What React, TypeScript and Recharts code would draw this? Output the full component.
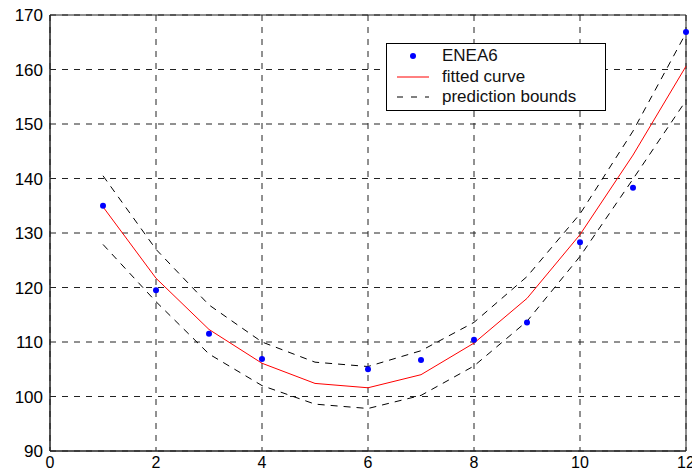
import { CartesianGrid, Legend, Line, LineChart, ReferenceArea, XAxis, YAxis } from 'recharts'

// x positions of the samples (months 1..12)
const xValues = [1, 2, 3, 4, 5, 6, 7, 8, 9, 10, 11, 12]
// measured points, no sample at x = 5
const eneaValues = [135, 119.5, 111.5, 106.9, null, 105, 106.7, 110.4, 113.6, 128.3, 138.3, 166.9]
const fittedValues = [134.8, 121.7, 112.3, 106.1, 102.4, 101.6, 104.0, 109.8, 118.0, 129.7, 144.3, 160.6]
const upperBound = [140.5, 127.0, 116.8, 110.0, 106.3, 105.5, 108.4, 113.6, 122.0, 133.5, 148.7, 166.7]
const lowerBound = [127.9, 117.4, 107.8, 102.0, 98.6, 97.8, 100.2, 105.6, 113.8, 125.7, 139.9, 154.3]

const xTicks = [0, 2, 4, 6, 8, 10, 12]
const yTicks = [90, 100, 110, 120, 130, 140, 150, 160, 170]

const seriesNames = ['ENEA6', 'fitted curve', 'prediction bounds']

const data = xValues.map((x, i) => ({
  x,
  enea: eneaValues[i],
  fitted: fittedValues[i],
  upper: upperBound[i],
  lower: lowerBound[i],
}))

const font = '"Liberation Sans", Arial, sans-serif'
const tickStyle = { fill: '#000', fontSize: 17, fontFamily: font }

function LegendBox() {
  return (
    <div
      style={{
        width: 218,
        height: 66,
        border: '1px solid #000',
        background: '#fff',
        fontFamily: font,
        fontSize: 17,
        color: '#111',
        position: 'relative',
      }}
    >
      {seriesNames.map((name, i) => (
        <div
          key={name}
          style={{ position: 'absolute', left: 0, top: 2 + i * 20.5, height: 20, width: '100%' }}
        >
          <svg width={50} height={20} style={{ position: 'absolute', left: 8, top: 0 }}>
            {i === 0 && <circle cx={18} cy={10} r={3} fill="#0000ff" />}
            {i === 1 && <line x1={2} x2={34} y1={10} y2={10} stroke="#ff0000" strokeWidth={1} />}
            {i === 2 && (
              <line x1={2} x2={34} y1={10} y2={10} stroke="#000" strokeWidth={1} strokeDasharray="6 8" />
            )}
          </svg>
          <span style={{ position: 'absolute', left: 55, top: 0, lineHeight: '20px' }}>{name}</span>
        </div>
      ))}
    </div>
  )
}

export default function App() {
  return (
    <div style={{ position: 'absolute', left: 0, top: 0, width: 692, height: 473, background: '#fff' }}>
      <LineChart width={692} height={473} data={data} margin={{ top: 15, right: 6, bottom: 0, left: 0 }}>
        <CartesianGrid stroke="#222" strokeDasharray="6 6" />
        <XAxis
          type="number"
          dataKey="x"
          domain={[0, 12]}
          ticks={xTicks}
          height={22}
          tickLine={false}
          tickSize={6}
          tickMargin={0}
          axisLine={{ stroke: '#222' }}
          tick={{ ...tickStyle, fontSize: 16 }}
          interval={0}
        />
        <YAxis
          type="number"
          domain={[90, 170]}
          ticks={yTicks}
          width={50}
          tickLine={false}
          tickSize={6}
          tickMargin={1}
          axisLine={{ stroke: '#222' }}
          tick={tickStyle}
          interval={0}
        />
        <ReferenceArea x1={0} x2={12} y1={90} y2={170} fill="none" stroke="#222" strokeWidth={1} />
        <Line
          dataKey="upper"
          stroke="#000"
          strokeWidth={1}
          strokeDasharray="7 6"
          dot={false}
          isAnimationActive={false}
        />
        <Line
          dataKey="lower"
          stroke="#000"
          strokeWidth={1}
          strokeDasharray="7 6"
          dot={false}
          isAnimationActive={false}
        />
        <Line dataKey="fitted" stroke="#ff0000" strokeWidth={1} dot={false} isAnimationActive={false} />
        <Line
          dataKey="enea"
          stroke="none"
          dot={{ r: 3, fill: '#0000ff', stroke: 'none' }}
          isAnimationActive={false}
        />
        {/* middle/center keeps the legend from shrinking the plot area */}
        <Legend
          layout="horizontal"
          verticalAlign="middle"
          align="center"
          content={() => <LegendBox />}
          wrapperStyle={{ position: 'absolute', left: 386, top: 43, width: 220, height: 68 }}
        />
      </LineChart>
    </div>
  )
}
